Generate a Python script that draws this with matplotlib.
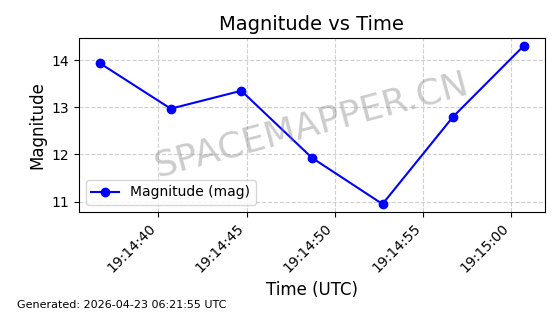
import datetime as dt
import matplotlib
matplotlib.use("Agg")
import matplotlib.pyplot as plt
import matplotlib.dates as mdates

times = ["19:14:36.7", "19:14:40.7", "19:14:44.7", "19:14:48.7",
         "19:14:52.7", "19:14:56.7", "19:15:00.7"]
mags = [13.93, 12.97, 13.35, 11.93, 10.95, 12.80, 14.30]

t = [dt.datetime.strptime("2026-04-23 " + s, "%Y-%m-%d %H:%M:%S.%f") for s in times]

fig, ax = plt.subplots(figsize=(5.6, 3.14), dpi=100)
ax.plot(t, mags, "o-", color="blue", label="Magnitude (mag)")
ax.set_title("Magnitude vs Time", fontsize=14)
ax.set_xlabel("Time (UTC)", fontsize=12)
ax.set_ylabel("Magnitude", fontsize=12)
ax.grid(True, linestyle="--", alpha=0.6)
ax.xaxis.set_major_formatter(mdates.DateFormatter("%H:%M:%S"))
ax.xaxis.set_major_locator(mdates.SecondLocator(bysecond=range(0, 60, 5)))
plt.setp(ax.get_xticklabels(), rotation=45, ha="right")
ax.legend(loc="lower left")

ax.text(0.5, 0.5, "SPACEMAPPER.CN", transform=ax.transAxes, fontsize=26,
        color="gray", alpha=0.4, rotation=15, ha="center", va="center")

fig.subplots_adjust(left=0.141, right=0.973, top=0.879, bottom=0.325)
fig.text(0.03, 0.02, "Generated: 2026-04-23 06:21:55 UTC", fontsize=8)
fig.savefig("out.png")
